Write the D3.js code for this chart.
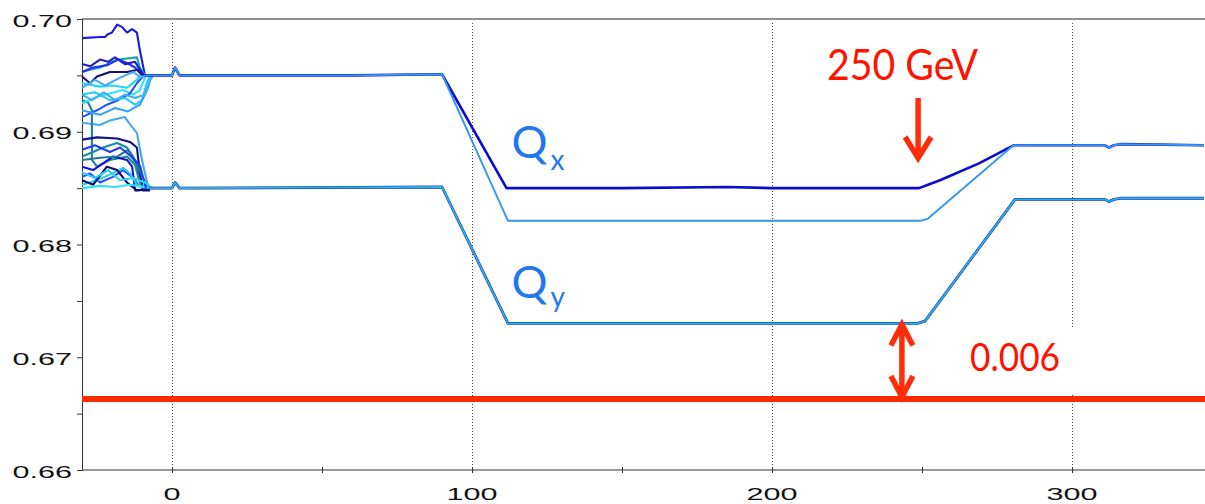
<!DOCTYPE html>
<html><head><meta charset="utf-8">
<script src="https://cdn.jsdelivr.net/npm/d3@7"></script>
<style>html,body{margin:0;padding:0;background:#fff;} svg{display:block;}</style>
</head><body>
<svg id="chart" width="1205" height="504"></svg>
<script>
// Axis ticks
const xTicks = [0, 100, 200, 300];
const xMinorTicks = [50, 150, 250];
const yTicks = [0.66, 0.67, 0.68, 0.69, 0.70];
const yMinorTicks = [0.665, 0.675, 0.685, 0.695];
const yTickLabels = ["0.66", "0.67", "0.68", "0.69", "0.70"];

// Horizontal tune Qx, two traces (turn, tune)
const qxMain = [[-9,0.6950],[-5,0.6950],[0,0.6950],[1,0.6957],[2.5,0.6950],[30,0.6950],[60,0.6950],[90,0.6951],
  [111.5,0.6850],[150,0.6850],[185,0.6851],[200,0.6850],[249,0.6850],[252,0.6853],[256,0.6857],[269,0.6872],
  [280.5,0.6888],[311,0.6888],[312.3,0.6886],[314,0.6888],[316,0.6889],[344,0.6888]];
const qxAlt = [[-9,0.6950],[-5,0.6950],[0,0.6950],[1,0.6957],[2.5,0.6950],[30,0.6950],[60,0.6950],[90,0.6951],
  [112,0.6821],[150,0.6821],[200,0.6821],[249.5,0.6821],[252,0.6823],[280.5,0.6888],[311,0.6888],
  [312.3,0.6886],[314,0.6888],[316,0.6889],[344,0.6888]];
// Vertical tune Qy
const qyMain = [[-8,0.6850],[0,0.6850],[1,0.6855],[2.5,0.6850],[90,0.6851],[112,0.6730],[200,0.6730],
  [248.5,0.6730],[251,0.6732],[281,0.6840],[311,0.6840],[312.3,0.6838],[314,0.6840],[316,0.6841],[344,0.6841]];

// Injection transients, settling onto Qx
const settleX = [
  [[-30,.6983],[-24,.6984],[-22.3,.6984],[-21.7,.6986],[-20,.6988],[-18.3,.6995],[-16.7,.6993],[-15,.6988],[-13.3,.6991],[-11.7,.6988],[-10.7,.6972],[-9,.6950]],
  [[-30,.6953],[-27.3,.6955],[-24,.6957],[-20.7,.6961],[-18,.6964],[-15,.6965],[-11.7,.6966],[-10.7,.6957],[-9,.6950]],
  [[-30,.6953],[-26.3,.6957],[-21.7,.6959],[-18,.6964],[-15,.6961],[-12.3,.6957],[-10,.6950]],
  [[-30,.6949],[-27.3,.6943],[-25,.6949],[-20.7,.6953],[-15,.6953],[-11.3,.6955],[-9.7,.6950]],
  [[-30,.6943],[-24,.6940],[-19.7,.6941],[-15,.6939],[-11.7,.6946],[-10.7,.6950]],
  [[-30,.6925],[-25,.6931],[-20.7,.6934],[-16.3,.6937],[-13,.6933],[-10.7,.6937],[-8.7,.6950]],
  [[-30,.6913],[-25,.6919],[-21.7,.6924],[-18,.6928],[-14,.6934],[-11.7,.6943],[-9.7,.6949]],
  [[-30,.6933],[-25.7,.6935],[-20.7,.6928],[-15.7,.6930],[-12.3,.6924],[-10,.6928],[-8.3,.6944],[-7.3,.6950]],
  [[-30,.6919],[-24,.6915],[-19,.6921],[-14.7,.6918],[-10.7,.6924],[-8.3,.6937],[-6.7,.6950]],
  [[-30,.6939],[-25.7,.6946],[-22.3,.6941],[-17.3,.6948],[-13,.6953],[-10.3,.6948],[-8.7,.6950]],
  [[-30,.6960],[-27.3,.6958],[-24,.6964],[-21.3,.6962],[-19,.6966],[-15.7,.6960],[-12.3,.6962],[-10.7,.6955],[-9.3,.6950]],
  [[-30,.6933],[-26.7,.6928],[-22.7,.6935],[-19,.6928],[-15.7,.6933],[-12.3,.6930],[-9,.6933],[-7.3,.6946],[-6.3,.6950]]
];
// Injection transients, settling onto Qy
const settleY = [
  [[-30,.6908],[-24,.6906],[-20.7,.6910],[-15.7,.6913],[-14.7,.6909],[-11.7,.6899],[-10,.6875],[-8.3,.6855],[-7.3,.6850]],
  [[-30,.6928],[-28,.6926],[-26.7,.6919],[-26.7,.6875],[-25,.6869],[-20.7,.6875],[-15,.6878],[-11.7,.6869],[-9.7,.6851]],
  [[-30,.6893],[-25,.6895],[-18.3,.6894],[-14,.6891],[-11.7,.6886],[-10.7,.6863],[-9.7,.6848],[-7.3,.6848]],
  [[-30,.6878],[-26.3,.6882],[-23,.6886],[-18.3,.6890],[-15,.6886],[-13,.6878],[-11.3,.6860],[-10,.6850]],
  [[-30,.6869],[-26.3,.6866],[-23,.6872],[-19.7,.6878],[-15,.6875],[-13.3,.6869],[-12.3,.6848],[-8.3,.6849]],
  [[-30,.6860],[-27.3,.6863],[-24,.6855],[-19.7,.6860],[-16.3,.6866],[-13.3,.6860],[-10.7,.6851]],
  [[-30,.6853],[-25,.6857],[-20.7,.6862],[-16.3,.6868],[-14,.6863],[-11.7,.6853],[-9,.6850]],
  [[-30,.6875],[-24,.6877],[-18.3,.6878],[-14.7,.6884],[-12.3,.6875],[-8.3,.6851]],
  [[-30,.6857],[-26.3,.6853],[-21.7,.6869],[-18.3,.6866],[-15,.6855],[-11.7,.6848],[-7.3,.6849]],
  [[-30,.6850],[-24,.6852],[-19,.6851],[-14,.6853],[-9,.6851],[-5.7,.6850]],
  [[-30,.6884],[-25.7,.6888],[-20.7,.6882],[-17.3,.6886],[-14,.6879],[-10.7,.6870],[-8.7,.6850]],
  [[-30,.6864],[-25.7,.6859],[-21.3,.6866],[-17.3,.6857],[-13,.6859],[-9,.6855],[-6.7,.6850]]
];
const settleXColors = ["#1a1ae0","#1aa0b8","#2030f0","#101080","#20d8f0","#30e4ff","#2458f0","#28c8f0","#3c9ef5","#4aa8ee","#1c20c8","#40b0f0"];
const settleYColors = ["#45a8f0","#168898","#121290","#178aa8","#1414d0","#2650ff","#22d0f0","#1e7a95","#101070","#30e0ff","#2040e8","#2ad0f5"];

// Resonance limit and annotations
const resonanceLevel = 0.6663;
const tuneMargin = "0.006";
const energyLabel = "250 GeV";
const energyTurn = 248.7;

const svg = d3.select("#chart");
const W = 1205, H = 504;
const x = d3.scaleLinear().domain([-30, 344]).range([82, 1204]);
const y = d3.scaleLinear().domain([0.66, 0.70]).range([470, 19]);
const line = d3.line().x(d => x(d[0])).y(d => y(d[1]));

// frame
svg.append("line").attr("x1", x(-30)).attr("x2", W).attr("y1", y(0.70)).attr("y2", y(0.70))
  .attr("stroke", "#6a6a6a").attr("stroke-width", 1.5);

// dotted grid
svg.append("g").selectAll("line").data(xTicks).join("line")
  .attr("x1", d => Math.round(x(d)) + 0.5).attr("x2", d => Math.round(x(d)) + 0.5)
  .attr("y1", y(0.70) + 4).attr("y2", y(0.66))
  .attr("stroke", "#444").attr("stroke-width", 1).attr("stroke-dasharray", "1,2");

// axes
const yAxis = svg.append("g").attr("transform", `translate(${x(-30)},0)`)
  .call(d3.axisLeft(y).tickValues(yTicks.concat(yMinorTicks)).tickSize(5).tickFormat(""));
yAxis.select(".domain").attr("stroke", "#333");
yAxis.selectAll(".tick line").attr("stroke", "#333");
const xAxis = svg.append("g").attr("transform", `translate(0,${y(0.66)})`)
  .call(d3.axisBottom(x).tickValues(xTicks.concat(xMinorTicks)).tickSize(3).tickFormat(""));
xAxis.select(".domain").attr("stroke", "#333").attr("d", `M${x(-30)},0H${W}`);
xAxis.selectAll(".tick line").attr("stroke", "#333").attr("y1", -3);

// tick labels (wide face)
svg.append("g").selectAll("text").data(yTicks).join("text")
  .attr("transform", d => `translate(72,${y(d) + 7.5}) scale(1.8,1)`)
  .attr("text-anchor", "end").attr("font-family", "Liberation Sans, Arial, sans-serif")
  .attr("font-size", 17).attr("fill", "#111")
  .text((d, i) => yTickLabels[i]);
svg.append("g").selectAll("text").data(xTicks).join("text")
  .attr("transform", d => `translate(${x(d)},499.5) scale(1.8,1)`)
  .attr("text-anchor", "middle").attr("font-family", "Liberation Sans, Arial, sans-serif")
  .attr("font-size", 17).attr("fill", "#111")
  .text(d => String(d));

// white label box behind the margin value
svg.append("rect").attr("x", 958).attr("y", y(0.6728) + 2).attr("width", 128)
  .attr("height", y(resonanceLevel) - y(0.6728) - 8).attr("fill", "#fff");

// transients
const plot = svg.append("g").attr("fill", "none").attr("stroke-linejoin", "round");
settleY.forEach((tr, i) => plot.append("path").attr("d", line(tr))
  .attr("stroke", settleYColors[i]).attr("stroke-width", 2.1));
settleX.forEach((tr, i) => plot.append("path").attr("d", line(tr))
  .attr("stroke", settleXColors[i]).attr("stroke-width", 2.1));

// tune traces
plot.append("path").attr("d", line(qyMain)).attr("stroke", "#1a1ab8").attr("stroke-width", 2.8);
plot.append("path").attr("d", line(qyMain)).attr("stroke", "#28b0e0").attr("stroke-width", 1.9);
plot.append("path").attr("d", line(qxMain)).attr("stroke", "#0c0cd0").attr("stroke-width", 2.6);
plot.append("path").attr("d", line(qxAlt)).attr("stroke", "#3398ee").attr("stroke-width", 1.9);

// resonance line
svg.append("line").attr("x1", x(-30)).attr("x2", W)
  .attr("y1", y(resonanceLevel)).attr("y2", y(resonanceLevel))
  .attr("stroke", "#ff2a00").attr("stroke-width", 6);

// labels Qx, Qy
const qLabel = (yBase, sub, subBase) => {
  const t = svg.append("text").attr("font-family", "Lato, 'Open Sans', sans-serif").attr("fill", "#1f78f0");
  t.append("tspan").attr("x", x(113.2)).attr("y", yBase).attr("font-size", 45).text("Q");
  t.append("tspan").attr("x", x(126.2)).attr("y", subBase).attr("font-size", 28).text(sub);
};
qLabel(158, "x", 170);
qLabel(298, "y", 307);

// annotations
const red = "#ff2d0a";
const ax = x(energyTurn);
svg.append("text").attr("x", x(243.5)).attr("y", 80).attr("text-anchor", "middle")
  .attr("font-family", "Lato, 'Open Sans', sans-serif").attr("font-size", 42).attr("fill", "#ff1200")
  .attr("textLength", 151).attr("lengthAdjust", "spacingAndGlyphs").text(energyLabel);
const arrowG = svg.append("g").attr("stroke", red).attr("stroke-width", 5.5).attr("fill", "none")
  .attr("stroke-linecap", "butt").attr("stroke-linejoin", "miter");
arrowG.append("path").attr("d", `M${ax},98V158 M${ax - 13},137 L${ax},158 L${ax + 13},137`);

const dx = x(243.3), yTop = y(0.6730) + 1, yBot = y(resonanceLevel) - 2;
arrowG.append("path").attr("d",
  `M${dx},${yTop}V${yBot} M${dx - 11},${yTop + 21} L${dx},${yTop} L${dx + 11},${yTop + 21}` +
  ` M${dx - 11},${yBot - 21} L${dx},${yBot} L${dx + 11},${yBot - 21}`);

svg.append("text").attr("x", 970).attr("y", 371)
  .attr("font-family", "Lato, 'Open Sans', sans-serif").attr("font-size", 39).attr("fill", "#ff1200")
  .attr("textLength", 90).attr("lengthAdjust", "spacingAndGlyphs").text(tuneMargin);
</script>
</body></html>
